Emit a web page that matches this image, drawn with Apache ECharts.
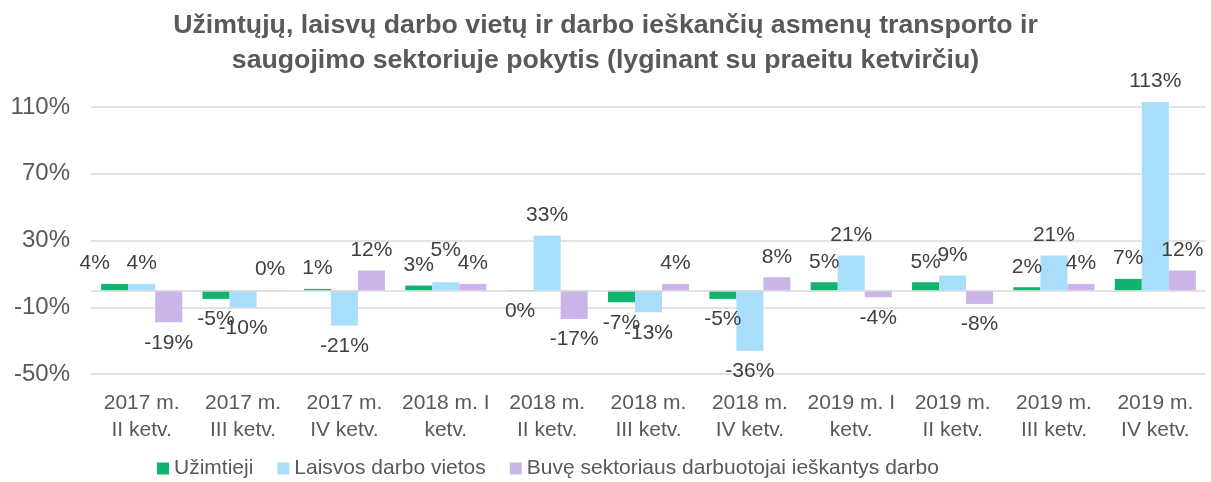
<!DOCTYPE html>
<html>
<head>
<meta charset="utf-8">
<script src="https://cdn.jsdelivr.net/npm/echarts@6/dist/echarts.min.js"></script>
<style>
html,body{margin:0;padding:0;background:#fff;}
#chart{width:1211px;height:482px;}
</style>
</head>
<body>
<div id="chart"></div>
<script>
// ketvirčiai
var categories = ['2017 m.\nII ketv.', '2017 m.\nIII ketv.', '2017 m.\nIV ketv.', '2018 m. I\nketv.',
	'2018 m.\nII ketv.', '2018 m.\nIII ketv.', '2018 m.\nIV ketv.', '2019 m. I\nketv.',
	'2019 m.\nII ketv.', '2019 m.\nIII ketv.', '2019 m.\nIV ketv.'];
var seriesNames = ['Užimtieji', 'Laisvos darbo vietos', 'Buvę sektoriaus darbuotojai ieškantys darbo'];
var uzimtieji = [4, -5, 1, 3, -0.3, -7, -5, 5, 5, 2, 7];
var laisvosVietos = [4, -10, -21, 5, 33, -13, -36, 21, 9, 21, 113];
var buveIeskantys = [-19, 0.3, 12, 4, -17, 4, 8, -4, -8, 4, 12];
var yMin = -50, yMax = 110, yStep = 40;

var colors = ['#12b36f', '#a8ddfc', '#cbb5e8'];
var font = '"Liberation Sans", Arial, sans-serif';

// rankiniai etikečių poslinkiai (kaip originale)
var labelShift = {'0-0': [-20, 0], '1-3': [0, -12]};

function makeData(arr, s) {
	var res = [];
	for (var i = 0; i < arr.length; i++) {
		var v = arr[i];
		var item = {value: v, label: {position: v < 0 ? 'bottom' : 'top'}};
		if (labelShift[s + '-' + i]) {
			item.label.offset = labelShift[s + '-' + i];
		}
		res.push(item);
	}
	return res;
}

function makeSeries(name, arr, s) {
	return {
		name: name,
		type: 'bar',
		clip: false,
		barGap: 0,
		barCategoryGap: '20%',
		data: makeData(arr, s),
		itemStyle: {color: colors[s]},
		label: {
			show: true,
			distance: 10,
			color: '#404040',
			fontSize: 21,
			fontFamily: font,
			formatter: function (p) {
				var r = Math.round(p.value);
				if (r === 0) r = 0;
				return r + '%';
			}
		}
	};
}

var myChart = echarts.init(document.getElementById('chart'));
var series = [
	makeSeries(seriesNames[0], uzimtieji, 0),
	makeSeries(seriesNames[1], laisvosVietos, 1),
	makeSeries(seriesNames[2], buveIeskantys, 2)
];
// nulinė linija
series[0].markLine = {
	silent: true,
	symbol: 'none',
	label: {show: false},
	lineStyle: {color: '#d9d9d9', width: 1.5, type: 'solid'},
	data: [{yAxis: 0}]
};

var option = {
	animation: false,
	color: colors,
	title: {
		text: 'Užimtųjų, laisvų darbo vietų ir darbo ieškančių asmenų transporto ir\nsaugojimo sektoriuje pokytis (lyginant su praeitu ketvirčiu)',
		left: 'center',
		top: 3,
		textStyle: {
			color: '#595959',
			fontSize: 26.7,
			fontWeight: 'bold',
			fontFamily: font,
			lineHeight: 35
		}
	},
	legend: {
		top: 453,
		left: 152,
		itemWidth: 12,
		itemHeight: 12,
		itemGap: 24,
		icon: 'rect',
		textStyle: {color: '#595959', fontSize: 21, fontFamily: font},
		data: seriesNames
	},
	grid: {
		left: 91,
		right: 5,
		top: 107,
		bottom: 108
	},
	xAxis: {
		type: 'category',
		data: categories,
		axisLine: {show: false},
		axisTick: {show: false},
		axisLabel: {
			interval: 0,
			margin: 16,
			color: '#595959',
			fontSize: 21,
			lineHeight: 27,
			fontFamily: font
		}
	},
	yAxis: {
		type: 'value',
		min: yMin,
		max: yMax,
		interval: yStep,
		axisLine: {show: false},
		axisTick: {show: false},
		splitLine: {lineStyle: {color: '#d9d9d9', width: 1.5}},
		axisLabel: {
			color: '#595959',
			fontSize: 24,
			fontFamily: font,
			margin: 21,
			formatter: '{value}%'
		}
	},
	series: series
};
myChart.setOption(option);
</script>
</body>
</html>
